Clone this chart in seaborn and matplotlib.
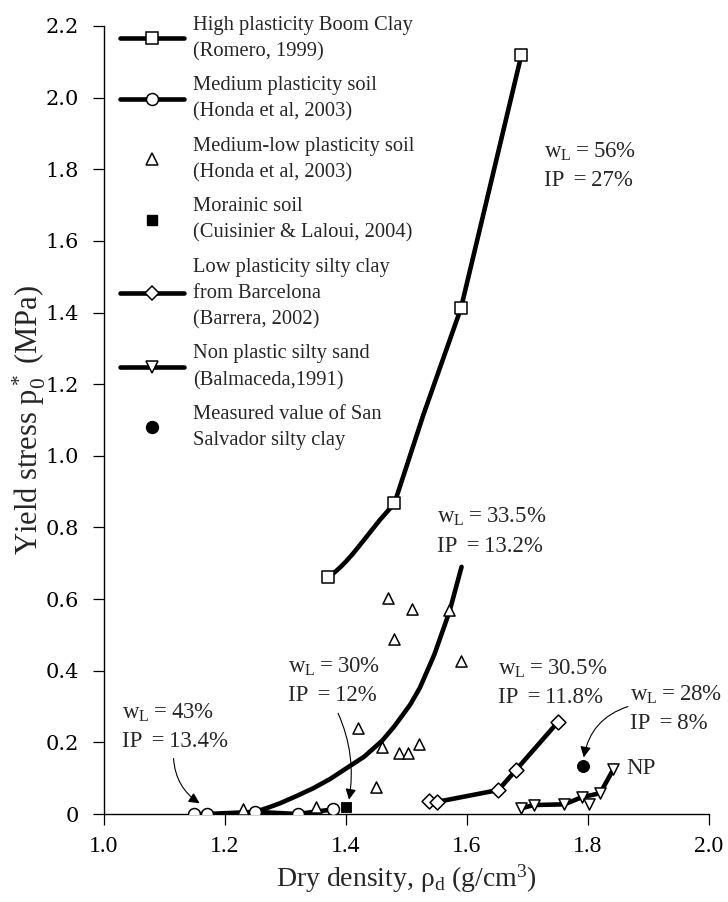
import matplotlib
matplotlib.use("Agg")
import matplotlib.pyplot as plt
from matplotlib.lines import Line2D
import seaborn as sns

# --- High plasticity Boom Clay (Romero, 1999) ---
boom_x = [1.370, 1.480, 1.590, 1.690]
boom_y = [0.662, 0.867, 1.412, 2.120]
boom_curve_x = [1.370, 1.380, 1.390, 1.400, 1.412, 1.425, 1.440, 1.456, 1.480, 1.528, 1.590, 1.690]
boom_curve_y = [0.662, 0.673, 0.688, 0.705, 0.728, 0.755, 0.787, 0.821, 0.867, 1.115, 1.412, 2.120]

# --- Medium plasticity soil (Honda et al, 2003) ---
honda_med_x = [1.149, 1.170, 1.250, 1.320, 1.379]
honda_med_y = [0.000, 0.000, 0.006, 0.000, 0.013]

# --- Medium-low plasticity soil (Honda et al, 2003) ---
honda_ml_x = [1.229, 1.350, 1.420, 1.450, 1.460, 1.470, 1.479, 1.488, 1.502,
              1.509, 1.520, 1.571, 1.590]
honda_ml_y = [0.014, 0.019, 0.239, 0.076, 0.188, 0.604, 0.488, 0.171, 0.171,
              0.572, 0.195, 0.570, 0.428]
honda_ml_curve_x = [1.250, 1.270, 1.291, 1.318, 1.346, 1.374, 1.401, 1.430, 1.460,
                    1.480, 1.506, 1.522, 1.546, 1.571, 1.591]
honda_ml_curve_y = [0.006, 0.017, 0.030, 0.050, 0.072, 0.098, 0.128, 0.160, 0.205,
                    0.245, 0.305, 0.352, 0.445, 0.565, 0.690]

# --- Morainic soil (Cuisinier & Laloui, 2004) ---
moraine_x = [1.400]
moraine_y = [0.019]

# --- Low plasticity silty clay from Barcelona (Barrera, 2002) ---
barc_x = [1.538, 1.551, 1.652, 1.681, 1.751]
barc_y = [0.037, 0.034, 0.067, 0.123, 0.258]

# --- Non plastic silty sand (Balmaceda, 1991) ---
np_x = [1.690, 1.710, 1.761, 1.790, 1.801, 1.820, 1.842]
np_y = [0.016, 0.025, 0.027, 0.047, 0.028, 0.058, 0.125]
np_on_line = [True, True, True, True, False, True, True]

# --- Measured value of San Salvador silty clay ---
ss_x = [1.791]
ss_y = [0.135]

legend_labels = [
    "High plasticity Boom Clay\n(Romero, 1999)",
    "Medium plasticity soil\n(Honda et al, 2003)",
    "Medium-low plasticity soil\n(Honda et al, 2003)",
    "Morainic soil\n(Cuisinier & Laloui, 2004)",
    "Low plasticity silty clay\nfrom Barcelona\n(Barrera, 2002)",
    "Non plastic silty sand\n(Balmaceda,1991)",
    "Measured value of San\nSalvador silty clay",
]

x_ticks = [1.0, 1.2, 1.4, 1.6, 1.8, 2.0]
y_ticks = [0.0, 0.2, 0.4, 0.6, 0.8, 1.0, 1.2, 1.4, 1.6, 1.8, 2.0, 2.2]
y_ticklabels = ["0", "0.2", "0.4", "0.6", "0.8", "1.0", "1.2", "1.4", "1.6",
                "1.8", "2.0", "2.2"]

sns.set_theme(style="ticks")
plt.rcParams["font.family"] = ["Liberation Serif", "DejaVu Serif"]
plt.rcParams["mathtext.fontset"] = "custom"
plt.rcParams["mathtext.rm"] = "Liberation Serif"
plt.rcParams["mathtext.it"] = "Liberation Serif:italic"
plt.rcParams["mathtext.bf"] = "Liberation Serif:bold"

fig = plt.figure(figsize=(7.28, 9.02), dpi=100)
ax = fig.add_axes([104 / 728, 1 - 814 / 902, 605 / 728, 788 / 902])

LW = 3.3
MS = 8.6
MEW = 1.1
line_kw = dict(color="black", lw=LW, sort=False, estimator=None, ax=ax, legend=False)
open_kw = dict(facecolor="white", edgecolor="black", linewidth=MEW, ax=ax,
               legend=False, zorder=4)

# curves
sns.lineplot(x=boom_curve_x, y=boom_curve_y, **line_kw)
sns.lineplot(x=honda_med_x, y=honda_med_y, **line_kw)
sns.lineplot(x=honda_ml_curve_x, y=honda_ml_curve_y, **line_kw)
sns.lineplot(x=barc_x, y=barc_y, **line_kw)
sns.lineplot(x=[x for x, k in zip(np_x, np_on_line) if k],
             y=[y for y, k in zip(np_y, np_on_line) if k], **line_kw)

# markers
sns.scatterplot(x=boom_x, y=boom_y, marker="s", s=MS ** 2, **open_kw)
sns.scatterplot(x=honda_med_x, y=honda_med_y, marker="o", s=MS ** 2, **open_kw)
sns.scatterplot(x=honda_ml_x, y=honda_ml_y, marker="^", s=8.0 ** 2, **open_kw)
sns.scatterplot(x=barc_x, y=barc_y, marker="D", s=7.6 ** 2, **open_kw)
sns.scatterplot(x=np_x, y=np_y, marker="v", s=8.0 ** 2, **open_kw)
sns.scatterplot(x=moraine_x, y=moraine_y, marker="s", s=7.6 ** 2, color="black",
                edgecolor="black", ax=ax, legend=False, zorder=4)
sns.scatterplot(x=ss_x, y=ss_y, marker="o", s=8.6 ** 2, color="black",
                edgecolor="black", ax=ax, legend=False, zorder=4)

# axes
ax.set_xlim(1.0, 2.0)
ax.set_ylim(0.0, 2.2)
ax.set_xticks(x_ticks)
ax.set_xticklabels([f"{v:.1f}" for v in x_ticks], fontsize=17)
ax.set_yticks(y_ticks)
ax.set_yticklabels(y_ticklabels, fontsize=15, family="DejaVu Serif")
ax.tick_params(direction="out", length=8, width=0.9, colors="black")
ax.tick_params(axis="x", pad=8)
ax.tick_params(axis="y", pad=10)
for side in ("top", "right"):
    ax.spines[side].set_visible(False)
for side in ("left", "bottom"):
    ax.spines[side].set_linewidth(1.0)
    ax.spines[side].set_color("black")
ax.set_xlabel(r"Dry density, ρ$_\mathrm{d}$ (g/cm$^3$)", fontsize=20, labelpad=4)
ax.set_ylabel(r"Yield stress p$_0^*$ (MPa)", fontsize=22, labelpad=-2)

# annotations
ann_fs = 16.5
ann_kw = dict(fontsize=ann_fs, va="center", ha="left", linespacing=1.45)
ts = "\u2009"


def wl_ip(wl, ip):
    return f"w$_\\mathrm{{L}}${ts}={ts}{wl}%\nIP{ts}{ts}={ts}{ip}%"


ax.text(1.727, 1.81, wl_ip("56", "27"), **ann_kw)
ax.text(1.550, 0.789, wl_ip("33.5", "13.2"), **ann_kw)
ax.text(1.304, 0.372, wl_ip("30", "12"), **ann_kw)
ax.text(1.029, 0.244, wl_ip("43", "13.4"), **ann_kw)
ax.text(1.651, 0.366, wl_ip("30.5", "11.8"), **ann_kw)
ax.text(1.869, 0.293, wl_ip("28", "8"), **ann_kw)
ax.text(1.864, 0.128, "NP", **ann_kw)

arrow_kw = dict(arrowstyle="-|>", lw=0.8, color="black", mutation_scale=16,
                shrinkA=0, shrinkB=0)
ax.annotate("", xy=(1.158, 0.030), xytext=(1.115, 0.155),
            arrowprops=dict(connectionstyle="arc3,rad=0.25", **arrow_kw))
ax.annotate("", xy=(1.405, 0.040), xytext=(1.387, 0.281),
            arrowprops=dict(connectionstyle="arc3,rad=-0.15", **arrow_kw))
ax.annotate("", xy=(1.793, 0.158), xytext=(1.866, 0.300),
            arrowprops=dict(connectionstyle="arc3,rad=0.3", **arrow_kw))

# legend
handles = [
    Line2D([], [], color="black", lw=LW, marker="s", ms=MS, mfc="white", mec="black", mew=MEW),
    Line2D([], [], color="black", lw=LW, marker="o", ms=MS, mfc="white", mec="black", mew=MEW),
    Line2D([], [], ls="none", marker="^", ms=8.0, mfc="white", mec="black", mew=MEW),
    Line2D([], [], ls="none", marker="s", ms=7.6, mfc="black", mec="black"),
    Line2D([], [], color="black", lw=LW, marker="D", ms=7.6, mfc="white", mec="black", mew=MEW),
    Line2D([], [], color="black", lw=LW, marker="v", ms=8.0, mfc="white", mec="black", mew=MEW),
    Line2D([], [], ls="none", marker="o", ms=8.6, mfc="black", mec="black"),
]
leg = ax.legend(handles, legend_labels, loc="upper left", bbox_to_anchor=(0.027, 1.013),
                frameon=False, fontsize=14.8, handlelength=3.1, handletextpad=0.45,
                labelspacing=0.72, borderpad=0, borderaxespad=0, numpoints=1)
for t in leg.get_texts():
    t.set_linespacing(1.52)

fig.savefig("out.png", dpi=100)
